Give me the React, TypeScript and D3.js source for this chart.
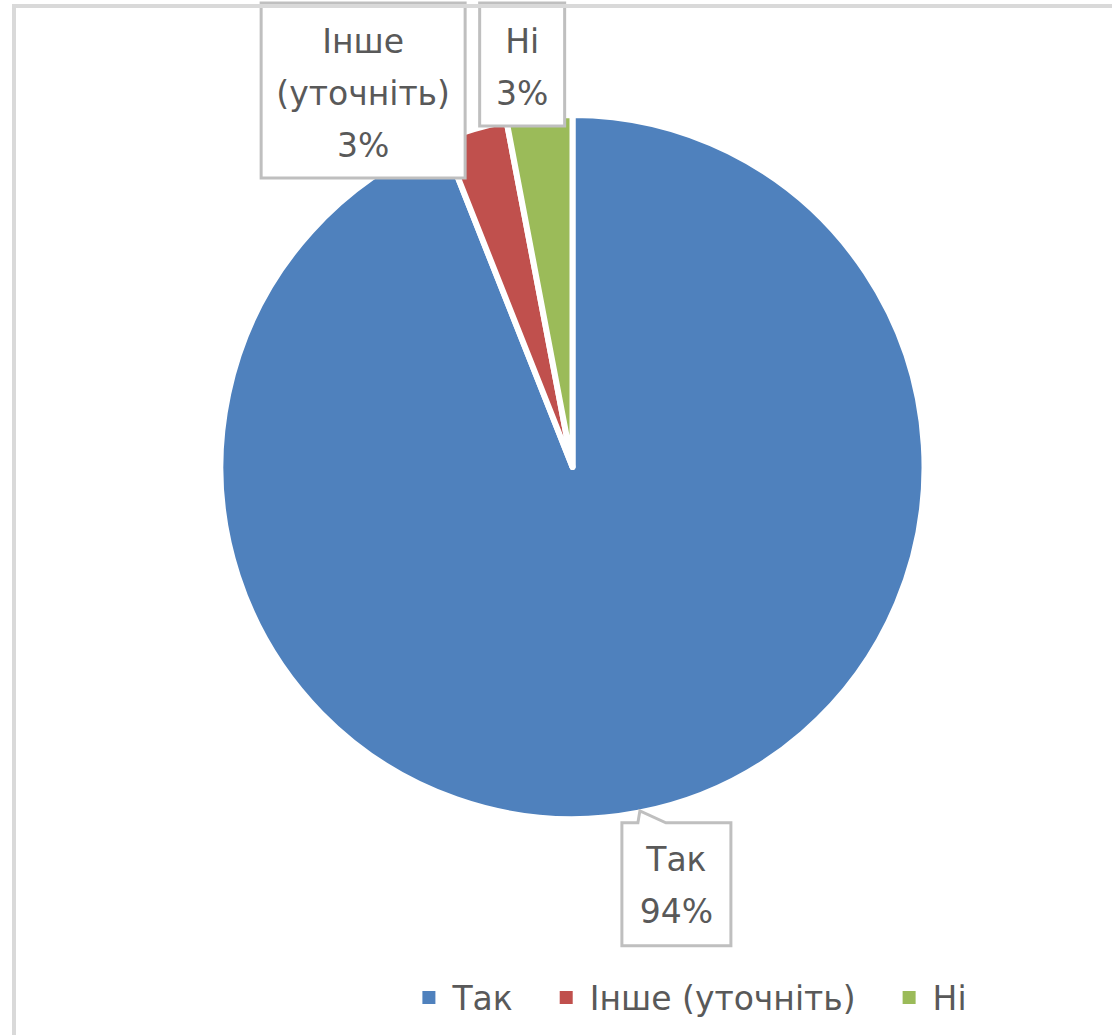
import * as React from 'react';
import { useEffect, useRef } from 'react';
import * as d3 from 'd3';

const categories = ['Так', 'Інше (уточніть)', 'Ні'];
const labelLines = [['Так'], ['Інше', '(уточніть)'], ['Ні']];
const shares = [94, 3, 3];
const colors = ['#4f81bd', '#c0504d', '#9bbb59'];

export default function App() {
    const svgRef = useRef<SVGSVGElement>(null);

    useEffect(() => {
        if (!svgRef.current) return;
        const width = 1112;
        const height = 1035;
        const cx = 572.5;
        const cy = 467;
        const radius = 352;
        const font = '"DejaVu Sans", "Liberation Sans", sans-serif';
        const fontSize = 33;
        const textColor = '#595959';
        const lineGap = 52;
        const boxWidths = [109, 204, 85];

        const svg = d3.select(svgRef.current);
        svg.selectAll('*').remove();

        svg.append('rect')
            .attr('width', width).attr('height', height)
            .attr('fill', '#fff');

        const data = categories.map((c, i) => ({ name: c, value: shares[i], lines: labelLines[i], color: colors[i] }));

        const pie = d3.pie<typeof data[0]>()
            .sort(null)
            .value(d => d.value);
        const arcs = pie(data);

        const arc = d3.arc<d3.PieArcDatum<typeof data[0]>>()
            .innerRadius(0)
            .outerRadius(radius);

        const g = svg.append('g').attr('transform', `translate(${cx},${cy})`);
        g.selectAll('path.slice')
            .data(arcs)
            .enter().append('path')
            .attr('class', 'slice')
            .attr('d', arc)
            .attr('fill', d => d.data.color)
            .attr('stroke', '#fff')
            .attr('stroke-width', 6)
            .attr('stroke-linejoin', 'round');

        // point on the outer edge at each slice's middle angle
        const edge = (d: d3.PieArcDatum<typeof data[0]>) => {
            const a = (d.startAngle + d.endAngle) / 2;
            const r = radius - 3;
            return [cx + r * Math.sin(a), cy - r * Math.cos(a)];
        };

        const labels = svg.append('g');
        arcs.forEach((d, i) => {
            const [ex, ey] = edge(d);
            const lines = [...d.data.lines, `${d.data.value}%`];
            const lg = labels.append('g');
            const txt = lg.append('text')
                .attr('font-family', font)
                .attr('font-size', fontSize)
                .attr('fill', textColor)
                .attr('text-anchor', 'middle');
            lines.forEach((l, k) => {
                txt.append('tspan').attr('x', 0).attr('y', k * lineGap).text(l);
            });
            const bw = boxWidths[i];
            const bh = (lines.length - 1) * lineGap + 71;
            let bx: number, by: number;
            if (i === 0) {
                // callout below the pie
                bx = ex - 16;
                by = ey + 13;
                const path = d3.path();
                path.moveTo(bx, by);
                path.lineTo(bx + 16, by);
                path.lineTo(ex + 2, ey + 1);
                path.lineTo(bx + 44, by);
                path.lineTo(bx + bw, by);
                path.lineTo(bx + bw, by + bh);
                path.lineTo(bx, by + bh);
                path.closePath();
                lg.insert('path', 'text')
                    .attr('d', path.toString())
                    .attr('fill', '#fff')
                    .attr('stroke', '#bfbfbf')
                    .attr('stroke-width', 3);
            } else {
                // boxes above the pie, pushed against the top of the frame
                bx = i === 1 ? ex - 10 - bw : ex - 60;
                by = 3;
                lg.insert('rect', 'text')
                    .attr('x', bx).attr('y', by)
                    .attr('width', bw).attr('height', bh)
                    .attr('fill', '#fff')
                    .attr('stroke', '#bfbfbf')
                    .attr('stroke-width', 3);
            }
            const baseY = i === 0 ? by + 48 : by + 50;
            txt.attr('transform', `translate(${bx + bw / 2},${baseY})`);
        });

        // legend
        const legend = svg.append('g');
        let x = 0;
        data.forEach(d => {
            const it = legend.append('g');
            it.append('rect')
                .attr('width', 13).attr('height', 13)
                .attr('y', -7)
                .attr('fill', d.color);
            const t = it.append('text')
                .attr('x', 30)
                .attr('y', 12)
                .attr('font-family', font)
                .attr('font-size', fontSize)
                .attr('fill', textColor)
                .text(d.name);
            const w = 30 + (t.node() as SVGTextElement).getComputedTextLength();
            it.attr('transform', `translate(${x},0)`);
            x += w + 47;
        });
        const total = x - 47;
        legend.attr('transform', `translate(${694.5 - total / 2},998)`);

        // chart area frame (cut by the picture edge)
        svg.append('rect')
            .attr('x', 14).attr('y', 6)
            .attr('width', 1300).attr('height', 1300)
            .attr('fill', 'none')
            .attr('stroke', '#d9d9d9')
            .attr('stroke-width', 4);
    }, []);

    return (
        <svg ref={svgRef} width={1112} height={1035}
            style={{ position: 'absolute', left: 0, top: 0, display: 'block' }} />
    );
}
